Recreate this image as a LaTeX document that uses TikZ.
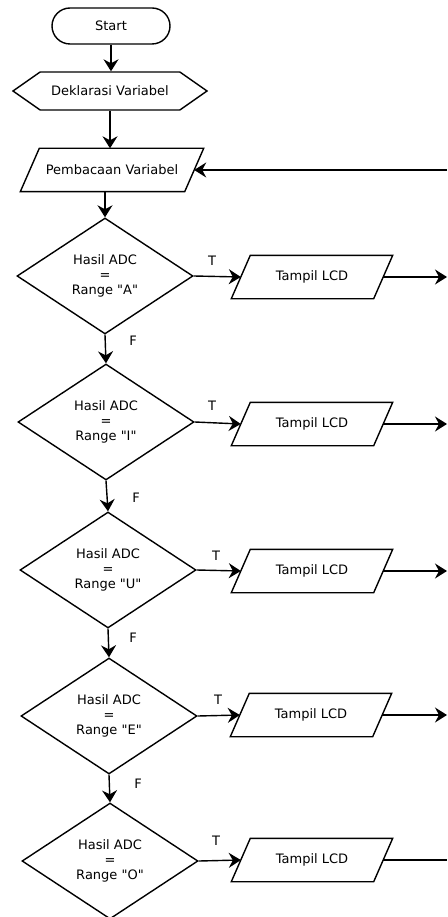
\documentclass[tikz,border=0pt]{standalone}
\usepackage{fontspec}
\setmainfont{DejaVu Sans}
\usetikzlibrary{arrows.meta,shapes.geometric,shapes.symbols}

\begin{document}
\begin{tikzpicture}[x=1pt,y=-1pt,
    every node/.style={font=\fontsize{13}{15}\selectfont},
    terminal/.style={draw,line width=1.4pt,rounded corners=18pt,minimum width=118pt,minimum height=36pt},
    decl/.style={draw,line width=1.4pt,shape=signal,signal to=west and east,signal pointer angle=70,minimum width=194pt,minimum height=38pt,inner sep=0pt},
    io/.style={minimum height=43pt,inner sep=0pt},
    ioline/.style={line width=1.4pt,line join=miter},
    decision/.style={draw,diamond,line width=1.4pt,minimum width=176pt,minimum height=116pt,align=center,inner sep=0pt},
    flow/.style={line width=1.4pt,-{Stealth[length=12pt,width=15pt,inset=4pt]}}]

      \useasboundingbox (0,0) rectangle (447,917);
      % right edge, where the loop lines go off the picture
      \coordinate (tepi) at (447,0);

      % Start, deklarasi, pembacaan
      \node[terminal] (start) at (111,26) {Start};
      \node[decl] (deklarasi) at (110,91) {Deklarasi Variabel};
      \node[io,minimum width=164pt] (baca) at (112,170) {Pembacaan Variabel};

      %% the five checks
      \node[decision] (cek1) at (105,276) {Hasil ADC\\=\\Range \textquotedbl A\textquotedbl};
      \node[decision] (cek2) at (106,422) {Hasil ADC\\=\\Range \textquotedbl I\textquotedbl};
      \node[decision] (cek3) at (108,570) {Hasil ADC\\=\\Range \textquotedbl U\textquotedbl};
      \node[decision] (cek4) at (109,716) {Hasil ADC\\=\\Range \textquotedbl E\textquotedbl};
      \node[decision] (cek5) at (110,861) {Hasil ADC\\=\\Range \textquotedbl O\textquotedbl};

      % LCD outputs
      \node[io,minimum width=142pt] (lcd1) at (312,277) {Tampil LCD};
      \node[io,minimum width=142pt] (lcd2) at (312,424) {Tampil LCD};
      \node[io,minimum width=142pt] (lcd3) at (312,571) {Tampil LCD};
      \node[io,minimum width=142pt] (lcd4) at (311,715) {Tampil LCD};
      \node[io,minimum width=142pt] (lcd5) at (312,860) {Tampil LCD};

      % parallelogram outlines round the io nodes
      \draw[ioline] ([xshift=9.5pt]baca.north west) -- ([xshift=9.5pt]baca.north east) -- ([xshift=-9.5pt]baca.south east) -- ([xshift=-9.5pt]baca.south west) -- cycle;
      \draw[ioline] ([xshift=9.5pt]lcd1.north west) -- ([xshift=9.5pt]lcd1.north east) -- ([xshift=-9.5pt]lcd1.south east) -- ([xshift=-9.5pt]lcd1.south west) -- cycle;
      \draw[ioline] ([xshift=9.5pt]lcd2.north west) -- ([xshift=9.5pt]lcd2.north east) -- ([xshift=-9.5pt]lcd2.south east) -- ([xshift=-9.5pt]lcd2.south west) -- cycle;
      \draw[ioline] ([xshift=9.5pt]lcd3.north west) -- ([xshift=9.5pt]lcd3.north east) -- ([xshift=-9.5pt]lcd3.south east) -- ([xshift=-9.5pt]lcd3.south west) -- cycle;
      \draw[ioline] ([xshift=9.5pt]lcd4.north west) -- ([xshift=9.5pt]lcd4.north east) -- ([xshift=-9.5pt]lcd4.south east) -- ([xshift=-9.5pt]lcd4.south west) -- cycle;
      \draw[ioline] ([xshift=9.5pt]lcd5.north west) -- ([xshift=9.5pt]lcd5.north east) -- ([xshift=-9.5pt]lcd5.south east) -- ([xshift=-9.5pt]lcd5.south west) -- cycle;

      % top of the chart
      \draw[flow] (start.south) -- (start.south |- deklarasi.north);
      \draw[flow] (deklarasi.south) -- (deklarasi.south |- baca.north);
      \draw[flow] (baca.east -| tepi) -- (baca.east);
      \draw[flow] (baca.south -| cek1.north) -- (cek1.north);

      % T branches
      \draw[flow] (cek1.east) -- (lcd1.west);
      \node (t1) at (212,261) {T};
      \draw[flow] (cek2.east) -- (lcd2.west);
      \node (t2) at (212,406) {T};
      \draw[flow] (cek3.east) -- (lcd3.west);
      \node (t3) at (216,556) {T};
      \draw[flow] (cek4.east) -- (lcd4.west);
      \node (t4) at (218,700) {T};
      \draw[flow] (cek5.east) -- (lcd5.west);
      \node (t5) at (216,841) {T};

      % F branches
      \draw[flow] (cek1.south) -- (cek2.north);
      \node (f1) at (133,341) {F};
      \draw[flow] (cek2.south) -- (cek3.north);
      \node (f2) at (136,498) {F};
      \draw[flow] (cek3.south) -- (cek4.north);
      \node (f3) at (133,638) {F};
      \draw[flow] (cek4.south) -- (cek5.north);
      \node (f4) at (138,784) {F};

      %% back to the loop on the right
      \draw[flow] (lcd1.east) -- (lcd1.east -| tepi);
      \draw[flow] (lcd2.east) -- (lcd2.east -| tepi);
      \draw[flow] (lcd3.east) -- (lcd3.east -| tepi);
      \draw[flow] (lcd4.east) -- (lcd4.east -| tepi);
      \draw[line width=1.4pt] (lcd5.east) -- (lcd5.east -| tepi);

    \end{tikzpicture}
\end{document}
